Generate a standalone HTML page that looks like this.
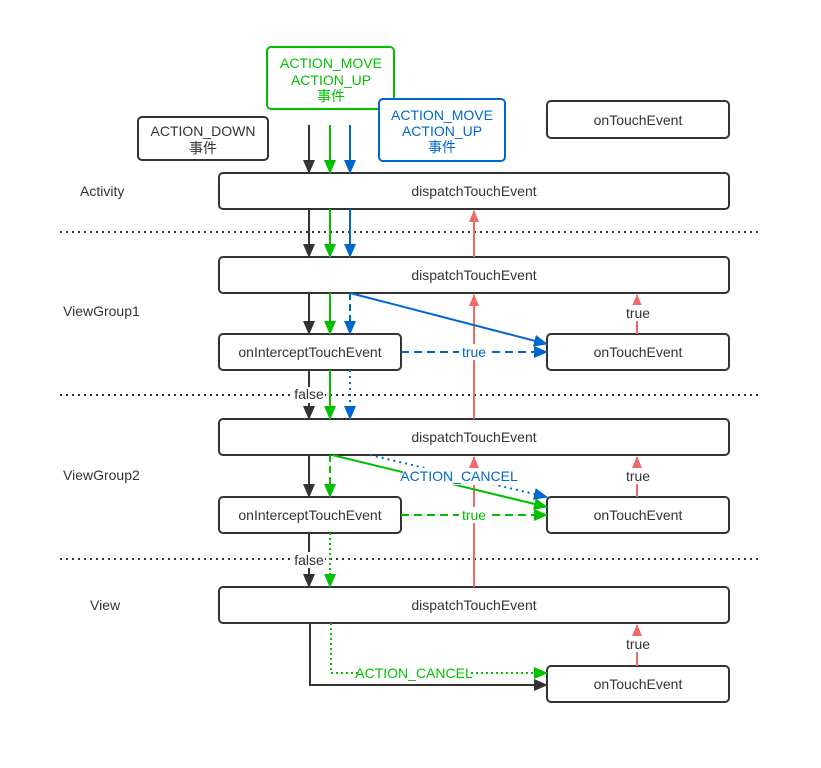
<!DOCTYPE html>
<html><head><meta charset="utf-8"><style>
html,body{margin:0;padding:0;background:#fff;}
text{font-family:"Liberation Sans","Noto Sans CJK SC",sans-serif;font-size:14px;}
</style></head><body>
<svg width="821" height="763" viewBox="0 0 821 763" xmlns="http://www.w3.org/2000/svg">
<defs>
<marker id="ak" markerWidth="14" markerHeight="12" refX="13" refY="6" orient="auto" markerUnits="userSpaceOnUse"><path d="M0,0 L14,6 L0,12 z" fill="#333"/></marker>
<marker id="ag" markerWidth="14" markerHeight="12" refX="13" refY="6" orient="auto" markerUnits="userSpaceOnUse"><path d="M0,0 L14,6 L0,12 z" fill="#00c000"/></marker>
<marker id="ab" markerWidth="14" markerHeight="12" refX="13" refY="6" orient="auto" markerUnits="userSpaceOnUse"><path d="M0,0 L14,6 L0,12 z" fill="#0066cc"/></marker>
<marker id="ar" markerWidth="12" markerHeight="10" refX="11" refY="5" orient="auto" markerUnits="userSpaceOnUse"><path d="M0,0 L12,5 L0,10 z" fill="#f06868"/></marker>
</defs>
<g stroke="#333" stroke-width="2" stroke-dasharray="2,4">
<line x1="60" y1="232" x2="758" y2="232"/><line x1="60" y1="395" x2="758" y2="395"/><line x1="60" y1="559" x2="758" y2="559"/>
</g>
<g fill="#fff" stroke="#333" stroke-width="2">
<rect x="138" y="117" width="130" height="43" rx="4"/>
<rect x="547" y="101" width="182" height="37" rx="4"/>
<rect x="219" y="173" width="510" height="36" rx="4"/>
<rect x="219" y="257" width="510" height="36" rx="4"/>
<rect x="219" y="334" width="182" height="36" rx="4"/>
<rect x="547" y="334" width="182" height="36" rx="4"/>
<rect x="219" y="419" width="510" height="36" rx="4"/>
<rect x="219" y="497" width="182" height="36" rx="4"/>
<rect x="547" y="497" width="182" height="36" rx="4"/>
<rect x="219" y="587" width="510" height="36" rx="4"/>
<rect x="547" y="666" width="182" height="36" rx="4"/>
</g>
<rect x="267" y="47" width="127" height="62" rx="4" fill="#fff" stroke="#00c000" stroke-width="2"/>
<rect x="379" y="99" width="126" height="62" rx="4" fill="#fff" stroke="#0066cc" stroke-width="2"/>
<g stroke="#f06868" stroke-width="2" fill="none">
<line x1="474" y1="587" x2="474" y2="457" marker-end="url(#ar)"/>
<line x1="474" y1="419" x2="474" y2="295" marker-end="url(#ar)"/>
<line x1="474" y1="257" x2="474" y2="211" marker-end="url(#ar)"/>
<line x1="637" y1="334" x2="637" y2="295" marker-end="url(#ar)"/>
<line x1="637" y1="497" x2="637" y2="457" marker-end="url(#ar)"/>
<line x1="637" y1="666" x2="637" y2="625" marker-end="url(#ar)"/>
</g>
<g stroke="#333" stroke-width="2" fill="none" marker-end="url(#ak)">
<line x1="309" y1="125" x2="309" y2="173"/>
<line x1="309" y1="209" x2="309" y2="257"/>
<line x1="309" y1="293" x2="309" y2="334"/>
<line x1="309" y1="370" x2="309" y2="419"/>
<line x1="309" y1="455" x2="309" y2="497"/>
<line x1="309" y1="533" x2="309" y2="587"/>
<polyline points="310,623 310,685 547,685"/>
</g>
<g stroke="#00c000" stroke-width="2" fill="none" marker-end="url(#ag)">
<line x1="330" y1="125" x2="330" y2="173"/>
<line x1="330" y1="209" x2="330" y2="257"/>
<line x1="330" y1="293" x2="330" y2="334"/>
<line x1="330" y1="370" x2="330" y2="419"/>
<line x1="330" y1="455" x2="330" y2="497" stroke-dasharray="7,4"/>
<line x1="330" y1="533" x2="330" y2="587" stroke-dasharray="2,3"/>
<polyline points="331,623 331,673 547,673" stroke-dasharray="2,3"/>
<line x1="332" y1="455" x2="547" y2="507"/>
<line x1="401" y1="515" x2="547" y2="515" stroke-dasharray="8,5"/>
</g>
<g stroke="#0066cc" stroke-width="2" fill="none" marker-end="url(#ab)">
<line x1="350" y1="125" x2="350" y2="173"/>
<line x1="350" y1="209" x2="350" y2="257"/>
<line x1="350" y1="293" x2="350" y2="334" stroke-dasharray="7,4"/>
<line x1="350" y1="370" x2="350" y2="419" stroke-dasharray="2,4"/>
<line x1="350" y1="293" x2="547" y2="344"/>
<line x1="401" y1="352" x2="547" y2="352" stroke-dasharray="8,5"/>
<line x1="370" y1="455" x2="547" y2="497" stroke-dasharray="2,4"/>
</g>
<g fill="#fff">
<rect x="293" y="387" width="32" height="16"/>
<rect x="293" y="552" width="32" height="16"/>
<rect x="459" y="344" width="32" height="16"/>
<rect x="459" y="507" width="32" height="16"/>
<rect x="403" y="468" width="112" height="17"/>
<rect x="358" y="665" width="112" height="17"/>
<rect x="622" y="305" width="32" height="16"/>
<rect x="622" y="468" width="32" height="16"/>
<rect x="622" y="636" width="32" height="16"/>
</g>
<g fill="#333" text-anchor="middle">
<text x="203" y="136">ACTION_DOWN</text><text x="203" y="153">事件</text>
<text x="638" y="125">onTouchEvent</text>
<text x="474" y="196">dispatchTouchEvent</text>
<text x="474" y="280">dispatchTouchEvent</text>
<text x="310" y="357">onInterceptTouchEvent</text>
<text x="638" y="357">onTouchEvent</text>
<text x="474" y="442">dispatchTouchEvent</text>
<text x="310" y="520">onInterceptTouchEvent</text>
<text x="638" y="520">onTouchEvent</text>
<text x="474" y="610">dispatchTouchEvent</text>
<text x="638" y="689">onTouchEvent</text>
<text x="309" y="399">false</text>
<text x="309" y="565">false</text>
<text x="638" y="318">true</text>
<text x="638" y="481">true</text>
<text x="638" y="649">true</text>
</g>
<g fill="#333" style="font-size:16px">
<text x="80" y="196">Activity</text>
<text x="63" y="316">ViewGroup1</text>
<text x="63" y="480">ViewGroup2</text>
<text x="90" y="610">View</text>
</g>
<g fill="#00c000" text-anchor="middle">
<text x="331" y="68">ACTION_MOVE</text><text x="331" y="85">ACTION_UP</text><text x="331" y="101">事件</text>
<text x="474" y="520">true</text>
<text x="414" y="678">ACTION_CANCEL</text>
</g>
<g fill="#0066cc" text-anchor="middle">
<text x="442" y="120">ACTION_MOVE</text><text x="442" y="136">ACTION_UP</text><text x="442" y="152">事件</text>
<text x="474" y="357">true</text>
<text x="459" y="481">ACTION_CANCEL</text>
</g>
</svg>
</body></html>
